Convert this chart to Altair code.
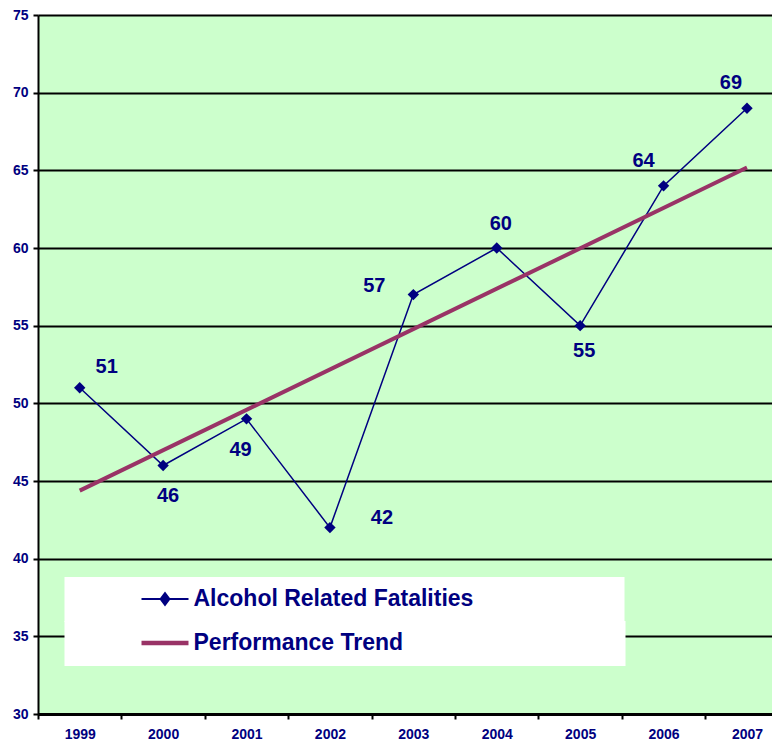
import altair as alt
import pandas as pd

# ---- data ----
years = [1999, 2000, 2001, 2002, 2003, 2004, 2005, 2006, 2007]
fatalities = [51, 46, 49, 42, 57, 60, 55, 64, 69]
series_names = ["Alcohol Related Fatalities", "Performance Trend"]
y_tick_values = [30, 35, 40, 45, 50, 55, 60, 65, 70, 75]

# ---- styling ----
NAVY = "#000080"
TREND = "#993366"
GREEN = "#CCFFCC"
FONT = "'Liberation Sans', Arial, sans-serif"

CHART_W, CHART_H = 764, 733
X_DOMAIN = [1998.5, 2007.3]          # right side is cut off as in the reference
PLOT_W_EST = CHART_W - 29.5          # plot width left after the y axis
HALF_STEP = PLOT_W_EST / (X_DOMAIN[1] - X_DOMAIN[0]) / 2

# pixel offsets of each data label relative to its point (style, not data)
label_offsets = {
    1999: (27, -21), 2000: (5, 31), 2001: (-6, 31), 2002: (52, -10),
    2003: (-39, -9), 2004: (4, -24), 2005: (4, 25), 2006: (-20, -25),
    2007: (-16, -25),
}

df = pd.DataFrame({
    "year": years,
    "value": fatalities,
    "series": series_names[0],
})

x_enc = alt.X(
    "year:Q",
    scale=alt.Scale(domain=X_DOMAIN, nice=False, zero=False),
    axis=alt.Axis(
        title=None, values=years, format="d", labelAngle=0,
        tickOffset=-HALF_STEP, labelOffset=HALF_STEP,
        domainColor="black", domainWidth=3,
        tickColor="black", tickWidth=2, tickSize=5,
        labelFont=FONT, labelFontSize=14, labelFontWeight="bold",
        labelColor=NAVY, labelPadding=8, grid=False, labelFlush=False,
    ),
)
y_enc = alt.Y(
    "value:Q",
    scale=alt.Scale(domain=[30, 75], nice=False, zero=False),
    axis=alt.Axis(
        title=None, values=y_tick_values,
        domainColor="black", domainWidth=2,
        tickColor="black", tickWidth=2, tickSize=5,
        gridColor="black", gridWidth=2, grid=True,
        labelFont=FONT, labelFontSize=14, labelFontWeight="bold",
        labelColor=NAVY, labelPadding=5,
    ),
)

legend_common = dict(
    title="\u00a0", titleOrient="right", titleFontSize=1,
    orient="none", legendX=26.5,
    fillColor="white", padding=10.5,
    labelFont=FONT, labelFontSize=23, labelFontWeight="bold",
    labelColor=NAVY, labelLimit=500,
    labelOffset=17, symbolOffset=78.5, symbolOpacity=1,
)

legend_a = alt.Legend(
    legendY=562, titlePadding=140.5,
    symbolType="M-2.35,0H2.35M-0.45,0L0,-0.6L0.45,0L0,0.6Z",
    symbolSize=400, symbolStrokeWidth=1.8,
    symbolFillColor=NAVY, symbolStrokeColor=NAVY,
    **legend_common,
)
legend_b = alt.Legend(
    legendY=606, titlePadding=211.5,
    symbolType="M-2.61,0H2.61",
    symbolSize=324, symbolStrokeWidth=4.5,
    symbolStrokeColor=TREND,
    **legend_common,
)

base = alt.Chart(df)

line = base.mark_line(strokeWidth=1.5).encode(
    x=x_enc, y=y_enc,
    color=alt.Color("series:N",
                    scale=alt.Scale(domain=[series_names[0]], range=[NAVY]),
                    legend=legend_a),
)

points = base.mark_point(shape="diamond", filled=True, size=130, opacity=1, color=NAVY).encode(
    x=x_enc, y=y_enc
)

trend = (
    base.transform_regression("year", "value")
    .transform_calculate(series="'Performance Trend'")
    .mark_line(strokeWidth=4)
    .encode(
        x=x_enc, y=y_enc,
        stroke=alt.Stroke("series:N",
                          scale=alt.Scale(domain=[series_names[1]], range=[TREND]),
                          legend=legend_b),
    )
)

label_layers = []
for yr, (dx, dy) in label_offsets.items():
    label_layers.append(
        base.transform_filter(alt.datum.year == yr)
        .mark_text(dx=dx, dy=dy, font=FONT, fontSize=20, fontWeight="bold",
                   color=NAVY, align="center", baseline="middle")
        .encode(x=x_enc, y=y_enc, text="value:Q")
    )

chart = (
    alt.layer(line, points, trend, *label_layers)
    .properties(width=CHART_W, height=CHART_H,
                autosize=alt.AutoSizeParams(type="fit", contains="padding"),
                padding={"left": 4, "top": 0, "right": 0, "bottom": 0},
                background="white")
    .configure_view(fill=GREEN, stroke="transparent")
)

chart.save("out.html", embed_options={"renderer": "svg", "actions": False})
